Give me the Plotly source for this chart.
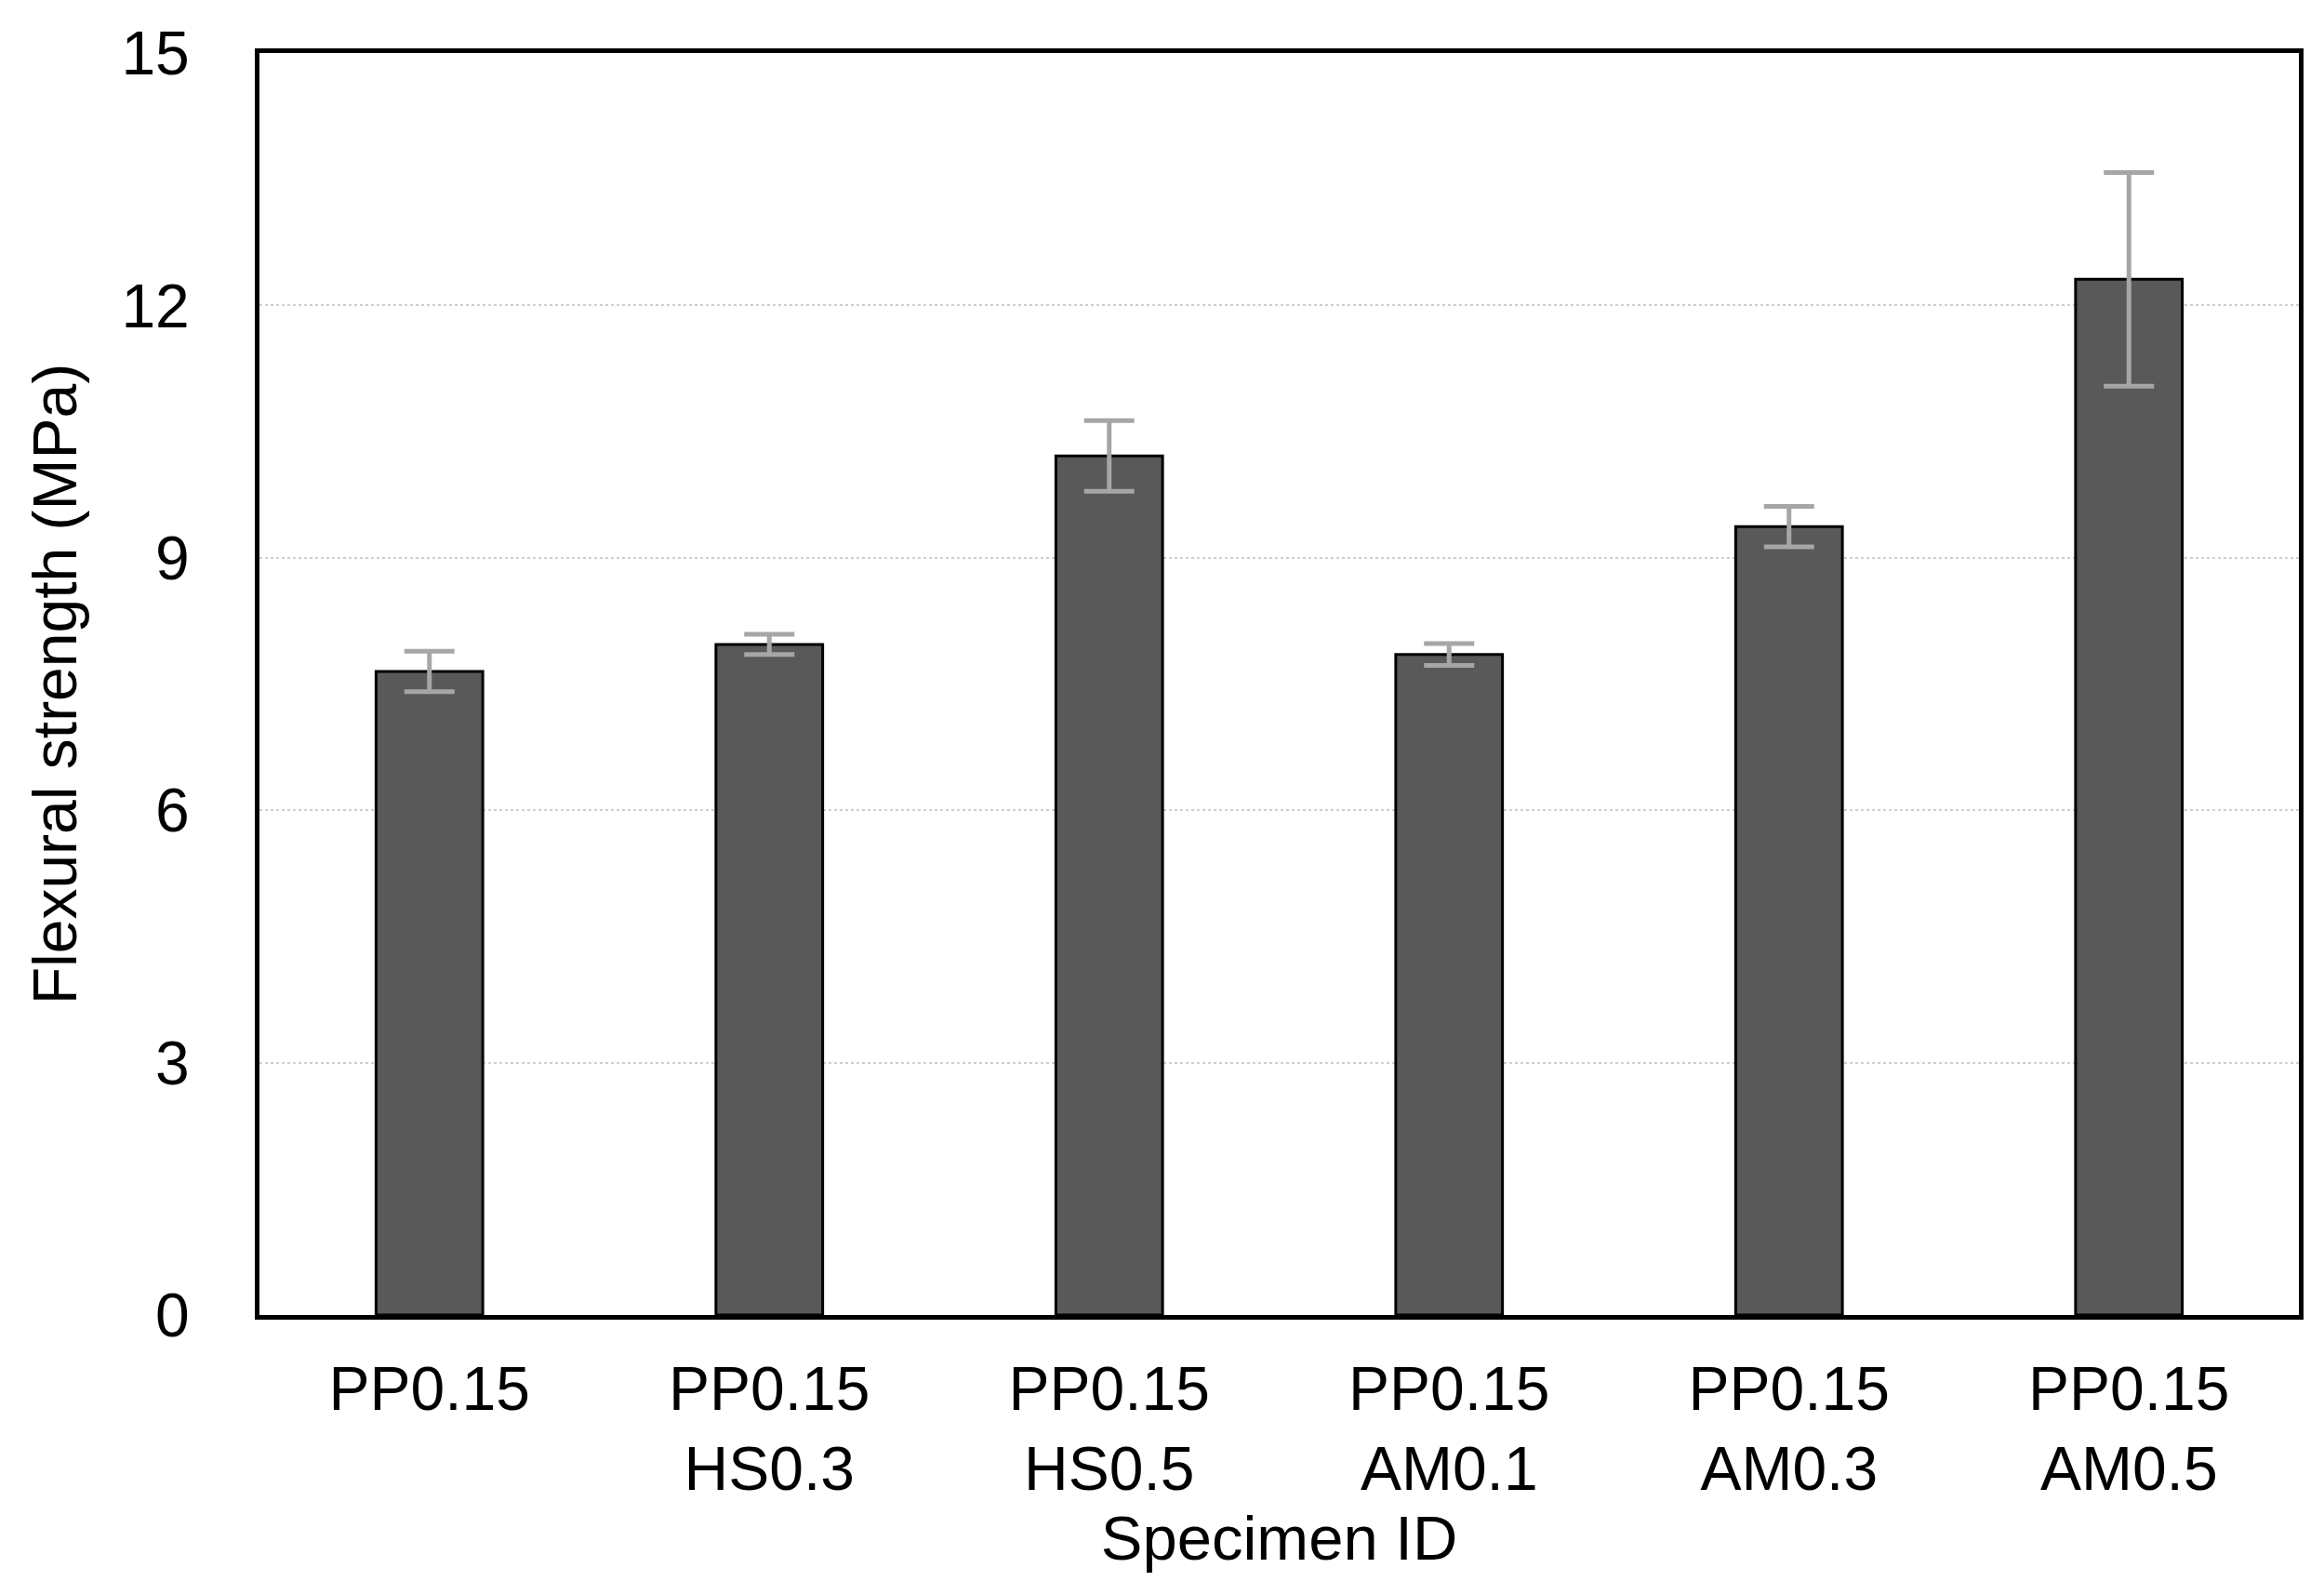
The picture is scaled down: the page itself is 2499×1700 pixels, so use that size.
import plotly.graph_objects as go

categories = ["PP0.15", "PP0.15<br>HS0.3", "PP0.15<br>HS0.5", "PP0.15<br>AM0.1", "PP0.15<br>AM0.3", "PP0.15<br>AM0.5"]
strength = [7.65, 7.97, 10.21, 7.85, 9.37, 12.31]
errors = [0.24, 0.12, 0.42, 0.13, 0.24, 1.27]
y_ticks = [0, 3, 6, 9, 12, 15]

FONT = "Liberation Sans, Arial, sans-serif"

fig = go.Figure()
fig.add_trace(go.Bar(
    x=categories,
    y=strength,
    marker=dict(color="#595959", line=dict(color="#000000", width=3)),
    error_y=dict(type="data", array=errors, visible=True, color="#A6A6A6", thickness=5, width=27),
))

fig.update_layout(
    width=2499, height=1700,
    paper_bgcolor="white", plot_bgcolor="white",
    margin=dict(l=271, r=35, t=41, b=294),
    bargap=0.686,
    showlegend=False,
    font=dict(family=FONT, size=66, color="#000000"),
)
fig.update_xaxes(
    showline=True, linecolor="#000000", linewidth=5, mirror=True,
    ticks="", ticklabelstandoff=18, tickfont=dict(size=66),
    title=dict(text="Specimen ID", font=dict(size=67), standoff=4),
    showgrid=False,
)
fig.update_yaxes(
    range=[0, 15], tickvals=y_ticks,
    showline=True, linecolor="#000000", linewidth=5, mirror=True,
    ticks="", ticklabelstandoff=57, tickfont=dict(size=66),
    showgrid=True, gridcolor="#CFCFCF", gridwidth=2, griddash="dot",
    zeroline=False,
    title=dict(text="Flexural strength (MPa)", font=dict(size=66), standoff=28),
)

fig.write_html("out.html")
